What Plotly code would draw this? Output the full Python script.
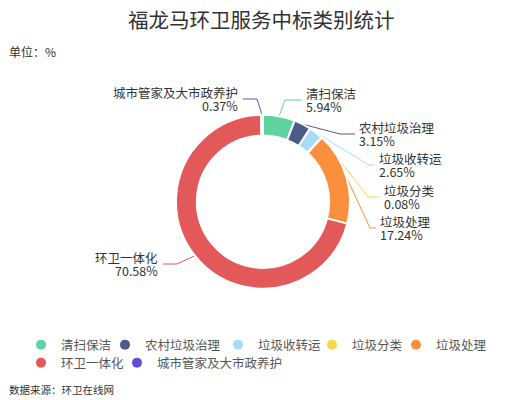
import math
import plotly.graph_objects as go

# data (单位: %)
categories = ["清扫保洁", "农村垃圾治理", "垃圾收转运", "垃圾分类", "垃圾处理", "环卫一体化", "城市管家及大市政养护"]
shares = [5.94, 3.15, 2.65, 0.08, 17.24, 70.58, 0.37]
share_labels = ["5.94%", "3.15%", "2.65%", "0.08%", "17.24%", "70.58%", "0.37%"]
colors = ["#5dd39e", "#4a5b8c", "#a8dcf5", "#f7d64a", "#fa8f3d", "#e35858", "#5e4fd4"]

W, H = 525, 400
OFF = 8  # page body margin of the html
FONT = "Noto Sans CJK SC"


def px(x):
    return (x - OFF) / W


def py(y):
    return 1 - (y - OFF) / H


# ring geometry in page pixels
cx, cy, R = 263, 201.7, 87

# label placement (elbow x, y, side, horizontal segment)
label_pos = [
    (285, 100, "r", 17),
    (340, 134, "r", 15),
    (369, 165, "r", 6),
    (368, 197, "r", 12),
    (370, 228, "r", 6),
    (177, 264, "l", 14),
    (257, 99, "l", 14),
]
# legend marker positions (x, y)
legend_pos = [(46, 345), (130, 345), (243, 345), (337, 345), (421, 345), (46, 363), (142, 363)]

fig = go.Figure()

fig.add_trace(go.Pie(
    labels=categories, values=shares, sort=False, direction="clockwise", rotation=0,
    hole=0.76, marker=dict(colors=colors, line=dict(color="white", width=2)),
    textinfo="none", hoverinfo="label+value", showlegend=False,
    domain=dict(x=[px(cx - R), px(cx + R)], y=[py(cy + R), py(cy - R)]),
))

total = sum(shares)
cum = 0
for i, (name, v) in enumerate(zip(categories, shares)):
    mid = (cum + v / 2) / total * 2 * math.pi
    cum += v
    ax_ = cx + R * math.sin(mid)
    ay_ = cy - R * math.cos(mid)
    ex, ey, side, l2 = label_pos[i]
    endx = ex + l2 if side == "r" else ex - l2
    fig.add_trace(go.Scatter(
        x=[ax_, ex, endx], y=[ay_, ey, ey], mode="lines",
        line=dict(color=colors[i], width=1), showlegend=False, hoverinfo="skip",
    ))
    tx = endx + (2 if side == "r" else -3)
    for txt, dy in [(name, -6.5), (share_labels[i], 6.5)]:
        fig.add_annotation(
            x=tx, y=ey + dy, xref="x", yref="y", text=txt, showarrow=False,
            xanchor="left" if side == "r" else "right", yanchor="middle",
            font=dict(size=12.5, color="#333", family=FONT),
        )

# legend entries with round markers, one legend per entry
for i, (name, c) in enumerate(zip(categories, colors)):
    key = "legend" if i == 0 else "legend%d" % (i + 1)
    fig.add_trace(go.Scatter(
        x=[None], y=[None], mode="markers", name=name, legend=key,
        marker=dict(color=c, size=10, symbol="circle"),
    ))
    lx, ly = legend_pos[i]
    fig.update_layout({key: dict(
        orientation="h", x=px(lx - 25), xanchor="left", y=py(ly), yanchor="middle",
        font=dict(size=12.5, color="#555", family=FONT),
        itemwidth=30, bgcolor="rgba(0,0,0,0)", borderwidth=0,
    )})

fig.add_annotation(x=px(261), y=py(19), xref="paper", yref="paper",
                   text="福龙马环卫服务中标类别统计", showarrow=False,
                   xanchor="center", yanchor="middle",
                   font=dict(size=20.5, color="#333", family=FONT))
fig.add_annotation(x=px(7), y=py(52), xref="paper", yref="paper",
                   text="单位：%", showarrow=False, xanchor="left", yanchor="middle",
                   font=dict(size=12, color="#333", family=FONT))
fig.add_annotation(x=px(7), y=py(389), xref="paper", yref="paper",
                   text="数据来源：环卫在线网", showarrow=False, xanchor="left", yanchor="middle",
                   font=dict(size=10.5, color="#333", family=FONT))

fig.update_xaxes(range=[OFF, W + OFF], visible=False, fixedrange=True)
fig.update_yaxes(range=[H + OFF, OFF], visible=False, fixedrange=True)

fig.update_layout(
    width=W, height=H,
    margin=dict(l=0, r=0, t=0, b=0),
    paper_bgcolor="white", plot_bgcolor="rgba(0,0,0,0)",
    font=dict(family=FONT, color="#333"),
)

fig.write_html("out.html")
